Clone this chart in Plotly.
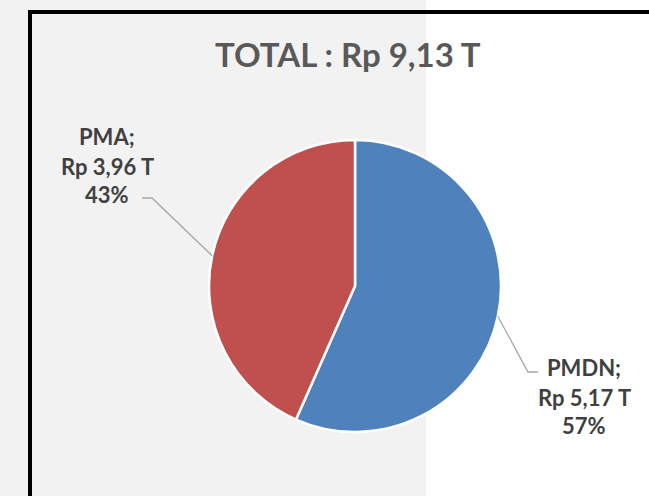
import math
import plotly.graph_objects as go

# ---- data ----
labels = ["PMDN", "PMA"]
values = [5.17, 3.96]
value_text = ["Rp 5,17 T", "Rp 3,96 T"]
colors = ["#4F81BD", "#C0504D"]
title_text = "TOTAL : Rp 9,13 T"

W, H = 649, 496
cx, cy, R = 355, 286, 146

FONT = "Lato, sans-serif"
TXT = "#404040"

fig = go.Figure()
fig.add_trace(go.Pie(
    labels=labels, values=values, sort=False, direction="clockwise", rotation=0,
    marker=dict(colors=colors, line=dict(color="white", width=2.5)),
    textinfo="none", hoverinfo="label+value+percent", showlegend=False,
    domain=dict(x=[(cx - R) / W, (cx + R) / W], y=[1 - (cy + R) / H, 1 - (cy - R) / H]),
))

total = sum(values)
layout_pos = {
    "PMDN": dict(elbow=(528, 372), end=(538, 372), lx=584, ly=[367, 397, 425]),
    "PMA": dict(elbow=(152, 198), end=(142, 198), lx=107, ly=[136, 166, 194]),
}

shapes = [
    dict(type="rect", xref="x", yref="y", x0=0, x1=426, y0=0, y1=H,
         fillcolor="#F2F2F2", line=dict(width=0), layer="below"),
    dict(type="rect", xref="x", yref="y", x0=30, x1=W + 20, y0=12, y1=H + 20,
         fillcolor="rgba(0,0,0,0)", line=dict(color="black", width=4), layer="below"),
]
annotations = [dict(x=348, y=54, xref="x", yref="y", text="<b>" + title_text + "</b>",
                    showarrow=False, font=dict(family=FONT, size=33, color="#595959"))]

cum = 0.0
for lab, v, vt in zip(labels, values, value_text):
    mid = (cum + v / 2) / total * 2 * math.pi
    cum += v
    ex, ey = cx + R * math.sin(mid), cy - R * math.cos(mid)
    p = layout_pos[lab]
    (bx, by), (tx, ty) = p["elbow"], p["end"]
    shapes.append(dict(type="path", xref="x", yref="y",
                       path=f"M {ex:.1f} {ey:.1f} L {bx} {by} L {tx} {ty}",
                       line=dict(color="#A6A6A6", width=1.3)))
    pct = f"{round(v / total * 100)}%"
    for txt, yy in zip([lab + ";", vt, pct], p["ly"]):
        annotations.append(dict(x=p["lx"], y=yy, xref="x", yref="y", text="<b>" + txt + "</b>",
                                showarrow=False, font=dict(family=FONT, size=22, color=TXT)))

fig.update_layout(
    width=W, height=H, margin=dict(l=0, r=0, t=0, b=0),
    paper_bgcolor="white", plot_bgcolor="rgba(0,0,0,0)",
    xaxis=dict(range=[0, W], visible=False, domain=[0, 1], fixedrange=True),
    yaxis=dict(range=[H, 0], visible=False, domain=[0, 1], fixedrange=True),
    shapes=shapes, annotations=annotations,
)
fig.write_html("out.html", config={"displayModeBar": False},
               post_script="document.body.style.margin='0';document.body.style.overflow='hidden';")
